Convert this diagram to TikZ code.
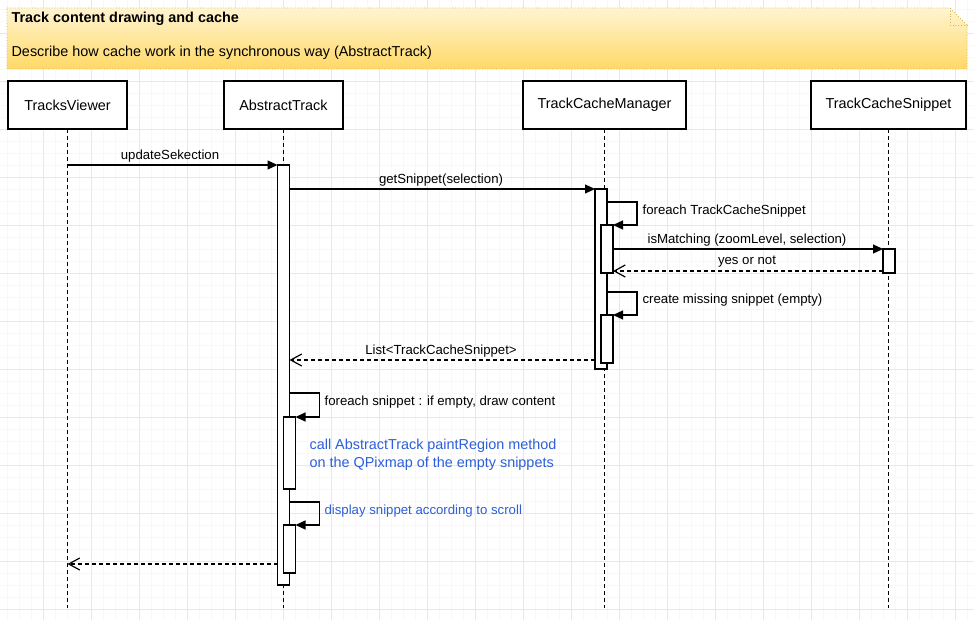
\documentclass[tikz,border=0pt]{standalone}
\usepackage{fontspec}
\setmainfont{Liberation Sans}
\usetikzlibrary{arrows.meta,calc}
\definecolor{gridminor}{RGB}{248,248,248}
\definecolor{gridmajor}{RGB}{232,232,232}
\definecolor{notetop}{RGB}{255,244,210}
\definecolor{notebot}{RGB}{255,217,102}
\definecolor{noteline}{RGB}{214,182,86}
\definecolor{bluetext}{RGB}{45,95,215}
\begin{document}
\begin{tikzpicture}[x=1pt,y=-1pt,line width=1.2pt,
  part/.style={draw,fill=white,minimum width=#1,minimum height=48pt,inner sep=0pt,outer sep=0pt,anchor=north west,font=\fontsize{14.4}{17}\selectfont},
  act/.style={draw,fill=white,minimum width=12pt,minimum height=#1,inner sep=0pt,outer sep=0pt,anchor=north west},
  life/.style={dash pattern=on 4pt off 3pt,line width=1pt},
  msg/.style={-{Triangle[length=10pt,width=9pt]}},
  ret/.style={dash pattern=on 4pt off 3pt,-{Straight Barb[length=11pt,width=12pt]}},
  lbl/.style={font=\fontsize{13.2}{15}\selectfont,inner sep=0pt},
  bluelbl/.style={lbl,text=bluetext},
  notetxt/.style={font=\fontsize{14.4}{17}\selectfont,inner sep=0pt,anchor=west}]
\useasboundingbox (0,0) rectangle (974,620);
\fill[white] (0,0) rectangle (974,620);
% grid
\foreach \x in {7,19,...,974} \draw[gridminor,line width=0.6pt] (\x,0) -- (\x,620);
\foreach \y in {9,21,...,620} \draw[gridminor,line width=0.6pt] (0,\y) -- (974,\y);
\foreach \x in {43,91,...,974} \draw[gridmajor,line width=0.8pt] (\x,0) -- (\x,620);
\foreach \y in {33,81,...,620} \draw[gridmajor,line width=0.8pt] (0,\y) -- (974,\y);
% note
\shade[top color=notetop,bottom color=notebot] (7,8) -- (950,8) -- (967,25) -- (967,69) -- (7,69) -- cycle;
\draw[noteline,dotted,line width=0.8pt] (7,8) -- (950,8) -- (967,25) -- (967,69) -- (7,69) -- cycle;
\draw[noteline,dotted,line width=0.8pt] (950,8) -- (950,25) -- (967,25);
\node[notetxt,font=\fontsize{14.4}{17}\selectfont\bfseries] (title) at (11,19) {Track content drawing and cache};
\node[notetxt] (desc) at (11,53) {Describe how cache work in the synchronous way (AbstractTrack)};
% participants
\node[part=119pt] (tv) at (8,81) {TracksViewer};
\node[part=119pt] (at) at (224,81) {AbstractTrack};
\node[part=163pt] (tcm) at (523,81) {TrackCacheManager};
\node[part=155pt] (tcs) at (811,81) {TrackCacheSnippet};
\coordinate (bot) at (0,608);
\draw[life] (tv.south) -- (tv.south |- bot);
\draw[life] (at.south) -- (at.south |- bot);
\draw[life] (tcm.south) -- (tcm.south |- bot);
\draw[life] (tcs.south) -- (tcs.south |- bot);
% activations
\node[act=420pt] (a1) at (277.5,165) {};
\node[act=72pt] (a1b) at (283.5,417) {};
\node[act=48pt] (a1c) at (283.5,525) {};
\node[act=180pt] (m1) at (595,189) {};
\node[act=48pt] (m1b) at (601,225) {};
\node[act=48pt] (m1c) at (601,315) {};
\node[act=24pt] (s1) at (883,249) {};
% messages
\draw[msg] (tv |- a1.north west) -- (a1.north west);
\node[lbl] (l1) at (170,156) {updateSekection};
\draw[msg] ($(a1.north east)+(0,24)$) -- (m1.north west);
\node[lbl] (l2) at (441,180) {getSnippet(selection)};
\draw[msg] ($(m1.north east)+(0,13)$) -- ++(30,0) |- (m1b.north east);
\node[lbl,anchor=west] (l3) at (642,211) {foreach TrackCacheSnippet};
\draw[msg] ($(m1b.north east)+(0,24)$) -- (s1.north west);
\node[lbl] (l4) at (747,240) {isMatching (zoomLevel, selection)};
\draw[ret] ($(s1.south west)+(0,-2)$) -- ($(m1b.south east)+(0,-2)$);
\node[lbl] (l5) at (747,262) {yes or not};
\draw[msg] ($(m1.north east)+(0,103)$) -- ++(30,0) |- (m1c.north east);
\node[lbl,anchor=west] (l6) at (642,300) {create missing snippet (empty)};
\coordinate (ls) at ($(m1.south west)+(0,-9)$);
\draw[ret] (ls) -- (a1.east |- ls);
\node[lbl] (l7) at (441,351) {List<TrackCacheSnippet>};
\draw[msg] ($(a1.north east)+(0,228)$) -- ++(30,0) |- (a1b.north east);
\node[lbl,anchor=west] (l8) at (324,402) {foreach snippet : if empty, draw content};
\node[bluelbl,font=\fontsize{14.4}{18}\selectfont,align=left,anchor=west] (l9) at (309,455) {call AbstractTrack paintRegion method\\on the QPixmap of the empty snippets};
\draw[msg] ($(a1.north east)+(0,337)$) -- ++(30,0) |- (a1c.north east);
\node[bluelbl,anchor=west] (l10) at (324,511) {display snippet according to scroll};
\coordinate (rs) at ($(a1.south west)+(0,-21)$);
\draw[ret] (rs) -- (tv |- rs);
\end{tikzpicture}
\end{document}
